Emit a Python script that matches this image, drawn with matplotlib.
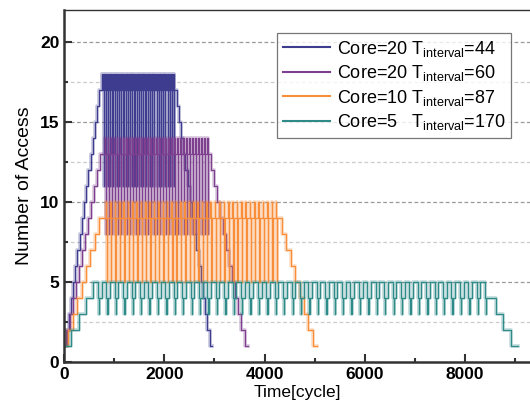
import matplotlib.pyplot as plt
import numpy as np

plt.rcParams['font.family'] = ['Liberation Sans', 'DejaVu Sans']
plt.rcParams['mathtext.fontset'] = 'custom'
plt.rcParams['mathtext.rm'] = 'Liberation Sans'

# series: ramp-up levels, one plateau period (level, cycles),
# number of plateau periods, ramp-down levels
labels = [r'Core=20 T$_{\mathrm{interval}}$=44',
          r'Core=20 T$_{\mathrm{interval}}$=60',
          r'Core=10 T$_{\mathrm{interval}}$=87',
          r'Core=5   T$_{\mathrm{interval}}$=170']
colors = ['#3d3c8f', '#7d3f8e', '#f98e3a', '#2e8b88']
up_step = [44, 60, 87, 145]
down_step = [44, 60, 87, 145]

ramp_up = [
    [1, 2, 3, 4, 5, 6, 7, 8, 9, 10, 11, 12, 13, 14, 15, 16, 17],
    [1, 2, 3, 4, 5, 6, 7, 8, 9, 10, 11, 12, 13],
    [1, 2, 3, 4, 5, 6, 7, 8, 9],
    [1, 2, 3, 4],
]
plateau = [
    [(18, 5), (17, 5), (18, 5), (17, 5), (18, 5), (17, 5), (18, 5), (17, 5), (11, 2), (17, 2)],
    [(13, 35), (14, 10), (13, 5), (8, 4), (13, 6)],
    [(9, 50), (10, 12), (9, 5), (5, 8), (9, 12)],
    [(5, 95), (4, 20), (3, 6), (4, 47)],
]
n_periods = [33, 35, 40, 47]
ramp_down = [
    [17, 16, 15, 14, 13, 12, 11, 10, 9, 8, 7, 6, 5, 4, 3, 2, 1],
    [13, 12, 11, 10, 9, 8, 7, 6, 5, 4, 3, 2, 1],
    [9, 8, 7, 6, 5, 4, 3, 2, 1],
    [4, 3, 2, 1],
]


def build(T_up, T_down, up, pat, n, down):
    levels, durs = [], []
    for v in up:
        levels.append(v); durs.append(T_up)
    for _ in range(n):
        for v, d in pat:
            levels.append(v); durs.append(d)
    for v in down:
        levels.append(v); durs.append(T_down)
    t = np.concatenate([[0], np.cumsum(durs)])
    y = np.append(levels, levels[-1])
    return t, y


fig = plt.figure(figsize=(5.3, 4.03), dpi=100)
ax = fig.add_axes([0.121, 0.101, 0.882, 0.874])

handles = []
for i in range(4):
    t, y = build(up_step[i], down_step[i], ramp_up[i], plateau[i], n_periods[i], ramp_down[i])
    ax.plot(t, y, drawstyle='steps-post', color=colors[i], lw=2.6, alpha=0.3)
    h, = ax.plot(t, y, drawstyle='steps-post', color=colors[i], lw=0.9, label=labels[i])
    handles.append(h)

ax.set_xlim(0, 9330)
ax.set_ylim(0, 22)
ax.set_xticks([0, 2000, 4000, 6000, 8000])
ax.set_xticks(np.arange(1000, 9300, 2000), minor=True)
ax.set_yticks([0, 5, 10, 15, 20])
ax.set_yticks([2.5, 7.5, 12.5, 17.5], minor=True)

for v in [5, 10, 15, 20]:
    ax.axhline(v, color='#999999', ls=(0, (3, 2)), lw=0.9, zorder=0)
for v in [2.5, 7.5, 12.5, 17.5]:
    ax.axhline(v, color='#cccccc', ls=(0, (3, 2)), lw=0.9, zorder=0)

ax.tick_params(which='both', direction='in', width=1.5, colors='#333333')
ax.tick_params(which='major', length=6, labelsize=12.5, labelcolor='black')
ax.tick_params(which='minor', length=3)
for lbl in ax.get_xticklabels() + ax.get_yticklabels():
    lbl.set_fontweight('bold')
for s in ['left', 'bottom']:
    ax.spines[s].set_linewidth(1.8)
    ax.spines[s].set_color('#333333')
for s in ['top', 'right']:
    ax.spines[s].set_linewidth(1.0)
    ax.spines[s].set_color('#333333')

ax.set_xlabel('Time[cycle]', fontsize=12.5, labelpad=2)
ax.set_ylabel('Number of Access', fontsize=14, labelpad=5)

leg = ax.legend(handles=handles, loc='upper right', bbox_to_anchor=(0.975, 0.96),
                fontsize=13, frameon=True, fancybox=False, edgecolor='#555555',
                handlelength=2.6, handletextpad=0.4, borderpad=0.3, labelspacing=0.25)
leg.get_frame().set_linewidth(0.9)
for lh in leg.get_lines():
    lh.set_linewidth(1.5)

fig.savefig('out.png', dpi=100)
